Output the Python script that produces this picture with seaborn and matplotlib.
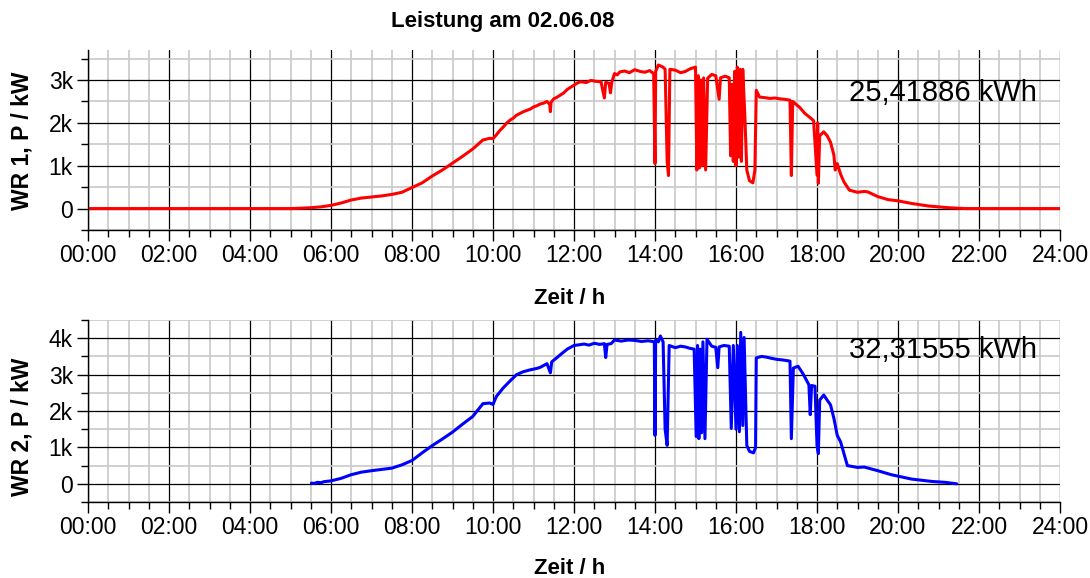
import matplotlib
matplotlib.use("Agg")
import matplotlib.pyplot as plt
from matplotlib.ticker import MultipleLocator, FuncFormatter
import numpy as np
import pandas as pd
import seaborn as sns

# ---------------------------------------------------------------------------
# Data: inverter output power over the day (time "HH:MM", power in W)
# ---------------------------------------------------------------------------
title = "Leistung am 02.06.08"
xlabel = "Zeit / h"
ylabel_wr1 = "WR 1, P / kW"
ylabel_wr2 = "WR 2, P / kW"
energy_wr1 = 25.41886   # kWh
energy_wr2 = 32.31555   # kWh

wr1_time = [
    "00:00", "05:00", "05:10", "05:30", "05:45", "06:00", "06:15", "06:30",
    "06:45", "07:00", "07:15", "07:30", "07:45", "08:00", "08:15", "08:30",
    "08:45", "09:00", "09:15", "09:30", "09:45", "09:55", "10:00", "10:05",
    "10:10", "10:15", "10:20", "10:25", "10:30", "10:35", "10:40", "10:45",
    "10:50", "10:55", "11:00", "11:05", "11:10", "11:15", "11:20", "11:24",
    "11:25", "11:26", "11:30", "11:35", "11:40", "11:45", "11:50", "11:55",
    "12:00", "12:05", "12:10", "12:18", "12:25", "12:32", "12:40", "12:45",
    "12:47", "12:52", "12:54", "12:56", "13:00", "13:04", "13:08", "13:15",
    "13:22", "13:30", "13:38", "13:45", "13:52", "13:58", "14:00", "14:01",
    "14:05", "14:12", "14:15", "14:18", "14:20", "14:22", "14:30", "14:38",
    "14:45", "14:52", "15:00", "15:02", "15:04", "15:06", "15:08", "15:10",
    "15:12", "15:15", "15:18", "15:24", "15:30", "15:35", "15:37", "15:44",
    "15:50", "15:52", "15:54", "15:56", "15:58", "16:00", "16:02", "16:04",
    "16:06", "16:08", "16:10", "16:13", "16:16", "16:20", "16:25", "16:28",
    "16:30", "16:35", "16:42", "16:50", "16:58", "17:05", "17:12", "17:20",
    "17:22", "17:24", "17:30", "17:35", "17:42", "17:50", "17:55", "18:00",
    "18:01", "18:02", "18:04", "18:10", "18:15", "18:20", "18:25", "18:27",
    "18:30", "18:35", "18:40", "18:48", "19:00", "19:10", "19:15", "19:30",
    "19:45", "20:00", "20:20", "20:45", "21:15", "21:35", "21:40", "24:00",
]
wr1_power = [
    0, 0, 5, 20, 40, 75, 130, 200,
    245, 270, 295, 330, 380, 490, 600, 760,
    900, 1060, 1220, 1390, 1600, 1640, 1630, 1720,
    1820, 1900, 1990, 2060, 2110, 2180, 2220, 2260,
    2290, 2320, 2370, 2400, 2440, 2460, 2500, 2430,
    2260, 2480, 2560, 2600, 2650, 2700, 2780, 2830,
    2880, 2930, 2960, 2940, 2990, 2970, 2960, 2580,
    2950, 2920, 2700, 2950, 3150, 3120, 3190, 3210,
    3170, 3240, 3200, 3180, 3220, 3150, 1050, 3200,
    3350, 3300, 3250, 1100, 770, 3250, 3230, 3170,
    3200, 3260, 3300, 900, 3100, 950, 3000, 1000,
    3050, 900, 3040, 3130, 3100, 2550, 3050, 3090,
    3050, 1230, 2900, 1100, 3200, 1000, 3300, 1200,
    3250, 1100, 3250, 2200, 900, 650, 600, 900,
    2760, 2600, 2590, 2570, 2580, 2560, 2550, 2530,
    770, 2500, 2420, 2350, 2220, 2120, 2050, 780,
    2000, 590, 1700, 1790, 1700, 1550, 1250, 900,
    1050, 800, 620, 430, 380, 400, 390, 280,
    210, 180, 120, 60, 20, 3, 0, 0,
]

wr2_time = [
    "05:31", "05:35", "05:40", "05:45", "05:50", "06:00", "06:15", "06:30",
    "06:45", "07:00", "07:30", "07:45", "08:00", "08:15", "08:30", "08:45",
    "09:00", "09:15", "09:30", "09:45", "09:55", "10:00", "10:05", "10:15",
    "10:25", "10:35", "10:45", "10:55", "11:05", "11:10", "11:20", "11:25",
    "11:27", "11:35", "11:40", "11:50", "12:00", "12:08", "12:15", "12:22",
    "12:30", "12:38", "12:45", "12:47", "12:49", "12:55", "13:00", "13:10",
    "13:20", "13:30", "13:40", "13:50", "13:59", "14:00", "14:01", "14:05",
    "14:08", "14:12", "14:15", "14:18", "14:21", "14:30", "14:38", "14:45",
    "14:52", "14:58", "15:01", "15:03", "15:05", "15:07", "15:09", "15:11",
    "15:14", "15:17", "15:24", "15:30", "15:33", "15:35", "15:42", "15:50",
    "15:53", "15:56", "16:00", "16:02", "16:05", "16:07", "16:10", "16:12",
    "16:16", "16:20", "16:26", "16:29", "16:30", "16:38", "16:45", "16:52",
    "17:00", "17:10", "17:20", "17:22", "17:25", "17:32", "17:40", "17:48",
    "17:50", "17:52", "17:57", "18:00", "18:02", "18:04", "18:10", "18:15",
    "18:20", "18:25", "18:30", "18:35", "18:40", "18:45", "19:00", "19:10",
    "19:30", "19:50", "20:20", "20:50", "21:10", "21:27",
]
wr2_power = [
    20, 10, 40, 30, 60, 80, 150, 250,
    320, 360, 430, 520, 640, 850, 1050, 1230,
    1420, 1640, 1850, 2200, 2220, 2180, 2400, 2630,
    2820, 3000, 3080, 3130, 3170, 3200, 3300, 3050,
    3350, 3470, 3550, 3700, 3800, 3820, 3840, 3810,
    3860, 3830, 3850, 3470, 3830, 3850, 3950, 3920,
    3950, 3940, 3910, 3930, 3900, 1330, 3950, 3900,
    4060, 3900, 1500, 1055, 3800, 3740, 3780, 3760,
    3720, 3700, 1300, 3800, 1240, 3700, 1400, 3900,
    1240, 3970, 3780, 3750, 3190, 3760, 3800, 3780,
    1520, 3800, 1500, 3800, 1430, 4160, 1600, 4020,
    1055, 890, 850, 1000, 3460, 3500, 3480, 3450,
    3420, 3400, 3370, 1240, 3180, 3230, 3000, 2720,
    1900, 2700, 2680, 1055, 830, 2300, 2440, 2300,
    2170, 1800, 1330, 1150, 825, 500, 450, 460,
    360, 250, 130, 65, 40, 0,
]

x_ticks = ["00:00", "02:00", "04:00", "06:00", "08:00", "10:00", "12:00",
           "14:00", "16:00", "18:00", "20:00", "22:00", "24:00"]


def to_hours(labels):
    parts = [s.split(":") for s in labels]
    return np.array([int(h) + int(m) / 60.0 for h, m in parts])


wr1 = pd.DataFrame({"t": to_hours(wr1_time), "p": wr1_power})
wr2 = pd.DataFrame({"t": to_hours(wr2_time), "p": wr2_power})

# ---------------------------------------------------------------------------
# Styling
# ---------------------------------------------------------------------------
sns.set_style("white")
plt.rcParams["font.family"] = ["Liberation Sans", "DejaVu Sans"]
plt.rcParams.update({
    "text.color": "black",
    "axes.labelcolor": "black",
    "xtick.color": "black",
    "ytick.color": "black",
})

fig = plt.figure(figsize=(10.9, 5.78), dpi=100)
ax1 = fig.add_axes([88 / 1090, 1 - 230 / 578, 972 / 1090, 180 / 578])
ax2 = fig.add_axes([88 / 1090, 1 - 502 / 578, 972 / 1090, 182 / 578])


def kilo(v, _pos):
    return "0" if abs(v) < 1e-9 else f"{int(round(v / 1000))}k"


def style_axis(ax, ytop):
    ax.set_xlim(0, 24)
    ax.set_ylim(-500, ytop)
    ax.xaxis.set_minor_locator(MultipleLocator(0.5))
    ax.yaxis.set_major_locator(MultipleLocator(1000))
    ax.yaxis.set_minor_locator(MultipleLocator(500))
    ax.set_xticks(to_hours(x_ticks))
    ax.set_xticklabels(x_ticks)
    ax.yaxis.set_major_formatter(FuncFormatter(kilo))
    ax.grid(which="minor", color="#c8c8c8", linewidth=1.2)
    ax.grid(which="major", color="black", linewidth=0.9)
    ax.set_axisbelow(True)
    for side in ("top", "right"):
        ax.spines[side].set_visible(False)
    for side in ("left", "bottom"):
        ax.spines[side].set_color("black")
        ax.spines[side].set_linewidth(1.0)
    ax.tick_params(axis="both", which="major", direction="out", length=8,
                   width=1.0, colors="black", labelsize=16.5, pad=2)
    ax.tick_params(axis="both", which="minor", direction="out", length=5,
                   width=1.0, colors="black")
    ax.tick_params(axis="y", which="major", pad=3)
    ax.tick_params(axis="x", which="both", bottom=True)
    ax.tick_params(axis="y", which="both", left=True)
    ax.set_xlabel("")
    ax.set_ylabel("")


sns.lineplot(data=wr1, x="t", y="p", ax=ax1, color="#ff0000", linewidth=2.2,
             estimator=None, sort=False)
sns.lineplot(data=wr2, x="t", y="p", ax=ax2, color="#0000ff", linewidth=2.2,
             estimator=None, sort=False)

style_axis(ax1, 3700)
style_axis(ax2, 4500)

ax1.text(0.976, 0.76, f"{energy_wr1:.5f}".replace(".", ",") + " kWh",
         transform=ax1.transAxes, ha="right", va="center", fontsize=21,
         color="black")
ax2.text(0.976, 0.835, f"{energy_wr2:.5f}".replace(".", ",") + " kWh",
         transform=ax2.transAxes, ha="right", va="center", fontsize=21,
         color="black")

fig.text(503 / 1090, 1 - 22 / 578, title, ha="center", va="center",
         fontsize=16, fontweight="bold")
fig.text(570 / 1090, 1 - 299 / 578, xlabel, ha="center", va="center",
         fontsize=16, fontweight="bold")
fig.text(570 / 1090, 1 - 568 / 578, xlabel, ha="center", va="center",
         fontsize=16, fontweight="bold")
fig.text(22 / 1090, 1 - 141 / 578, ylabel_wr1, ha="center", va="center",
         rotation=90, fontsize=16.5, fontweight="bold")
fig.text(22 / 1090, 1 - 427 / 578, ylabel_wr2, ha="center", va="center",
         rotation=90, fontsize=16.5, fontweight="bold")

fig.savefig("out.png", dpi=100, facecolor="white")
